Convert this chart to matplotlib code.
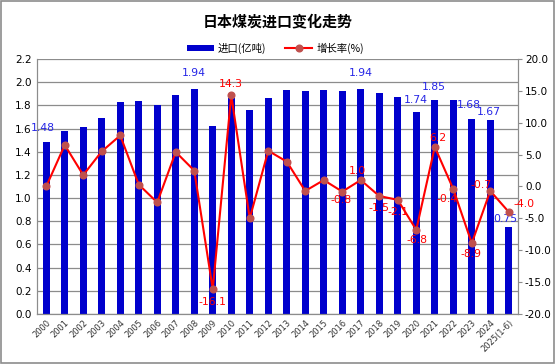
import numpy as np
import matplotlib
matplotlib.use('Agg')
import matplotlib.pyplot as plt
from matplotlib.patches import Rectangle

plt.rcParams['font.family'] = ['Noto Sans CJK SC', 'DejaVu Sans']

##### DATA #####
years = ['2000', '2001', '2002', '2003', '2004', '2005', '2006', '2007', '2008',
         '2009', '2010', '2011', '2012', '2013', '2014', '2015', '2016', '2017',
         '2018', '2019', '2020', '2021', '2022', '2023', '2024', '2025(1-6)']

imports = [1.48, 1.58, 1.61, 1.69, 1.83, 1.84, 1.80, 1.89, 1.94, 1.62, 1.86, 1.76, 1.86,
           1.93, 1.92, 1.93, 1.92, 1.94, 1.91, 1.87, 1.74, 1.85, 1.85, 1.68, 1.67, 0.75]

growth = [0.0, 6.5, 1.8, 5.5, 8.0, 0.3, -2.5, 5.4, 2.5, -16.1, 14.3, -5.0, 5.6,
          3.9, -0.7, 1.0, -0.8, 1.0, -1.5, -2.1, -6.8, 6.2, -0.4, -8.9, -0.7, -4.0]

# labelled points and label offsets (pixels, label centre relative to the point)
bar_labels = {'2000': (-3, 14), '2008': (0, 16), '2017': (0, 16), '2020': (0, 12),
              '2021': (-1, 13), '2023': (-3, 14), '2024': (-1, 8), '2025(1-6)': (-3, 8)}
line_labels = {'2009': (0, -13), '2010': (0, 11), '2016': (-1, -8), '2017': (-3, 9),
               '2018': (0, -12), '2019': (0, -12), '2020': (1, -10), '2021': (3, 9),
               '2022': (-6, -10), '2023': (-1, -11), '2024': (-9, 6), '2025(1-6)': (15, 8)}

BAR_COLOR = '#0000CC'
LINE_COLOR = '#FF0000'
MARKER_COLOR = '#C0504D'
GRID_COLOR = '#8C8C8C'
PX = 0.72  # points per pixel at 100 dpi

x = np.arange(len(years))

fig = plt.figure(figsize=(5.56, 3.64), dpi=100)
fig.patches.append(Rectangle((0.002, 0.003), 0.995, 0.994, transform=fig.transFigure,
                             fill=False, edgecolor='#8C8C8C', linewidth=1.2))

ax = fig.add_axes([0.0665, 0.1374, 0.8652, 0.7006])
ax.bar(x, imports, width=0.4, color=BAR_COLOR, zorder=2, label='进口(亿吨)')
ax.set_xlim(-0.5, len(years) - 0.5)
ax.set_ylim(0, 2.2)
ax.set_yticks(np.arange(0, 2.21, 0.2))
ax.set_yticklabels(['%.1f' % v for v in np.arange(0, 2.21, 0.2)], fontsize=7.5,
                   family='DejaVu Sans')
ax.grid(axis='y', color=GRID_COLOR, linewidth=0.9, zorder=0)
ax.tick_params(axis='y', length=0, pad=4)
ax.set_xticks(x)
ax.set_xticklabels(years, rotation=45, ha='right', rotation_mode='anchor',
                   fontsize=6, color='#333333', family='DejaVu Sans')
ax.tick_params(axis='x', length=0, pad=3)
ax.spines['top'].set_visible(False)
for s in ['left', 'bottom', 'right']:
    ax.spines[s].set_color(GRID_COLOR)

for i, y in enumerate(years):
    if y in bar_labels:
        dx, dy = bar_labels[y]
        ax.annotate('%.2f' % imports[i], (x[i], imports[i]), xytext=(dx * PX, dy * PX),
                    textcoords='offset points', ha='center', va='center',
                    fontsize=7.8, color='#2626E6', family='DejaVu Sans', zorder=5)

ax2 = ax.twinx()
ax2.plot(x, growth, color=LINE_COLOR, linewidth=1.5, marker='o', markersize=4.8,
         markerfacecolor=MARKER_COLOR, markeredgecolor=MARKER_COLOR, zorder=3,
         label='增长率(%)')
ax2.set_ylim(-20, 20)
ax2.set_yticks(np.arange(-20, 20.1, 5))
ax2.set_yticklabels(['%.1f' % v for v in np.arange(-20, 20.1, 5)], fontsize=7.5,
                    family='DejaVu Sans')
ax2.tick_params(axis='y', length=3, color=GRID_COLOR, pad=2)
ax2.spines['top'].set_visible(False)
for s in ['left', 'bottom', 'right']:
    ax2.spines[s].set_color(GRID_COLOR)

for i, y in enumerate(years):
    if y in line_labels:
        dx, dy = line_labels[y]
        ax2.annotate('%.1f' % growth[i], (x[i], growth[i]), xytext=(dx * PX, dy * PX),
                     textcoords='offset points', ha='center', va='center',
                     fontsize=7.8, color=LINE_COLOR, family='DejaVu Sans', zorder=5)

fig.text(0.5, 0.94, '日本煤炭进口变化走势', ha='center', va='center',
         fontsize=10.8, fontweight='bold')

h1, l1 = ax.get_legend_handles_labels()
h2, l2 = ax2.get_legend_handles_labels()
fig.legend(h1 + h2, l1 + l2, loc='center', bbox_to_anchor=(0.495, 0.868), ncol=2,
           frameon=False, fontsize=7.5, handlelength=2.6, handleheight=0.6,
           columnspacing=1.8, handletextpad=0.4)

fig.savefig('out.png', dpi=100)
